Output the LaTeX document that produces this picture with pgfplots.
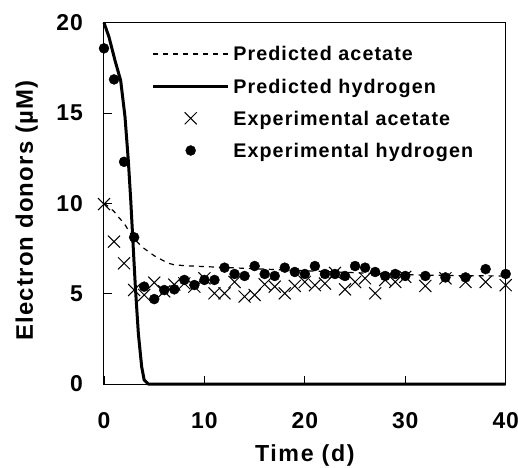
\documentclass[border=0pt]{standalone}
\usepackage{pgfplots}
\pgfplotsset{compat=1.18}
\usepackage{fontspec}
\setmainfont{Liberation Sans}
\newfontfamily\legfont{Liberation Sans Bold}[LetterSpace=5.5]
\newfontfamily\xlabfont{Liberation Sans Bold}[LetterSpace=7]
\newfontfamily\ylabfont{Liberation Sans Bold}[LetterSpace=5]
\newfontfamily\tickfont{Liberation Sans Bold}[LetterSpace=4]

% predicted (model) curves
\pgfplotstableread{
t   c
0   10
0.5 9.8
1   9.55
1.5 9.2
2   8.9
2.5 8.45
3   8.05
3.5 7.75
4   7.5
4.5 7.3
5   7.1
5.5 6.95
6   6.8
6.5 6.67
7   6.6
8   6.55
10  6.5
12  6.45
15  6.38
20  6.27
25  6.16
30  6.05
35  6.0
40  5.98
}\predacetate

\pgfplotstableread{
t    c
0    20
0.5  19.2
1.1  17.9
1.66 16.8
2.09 14.8
2.43 12.3
2.66 10.2
2.86 8.1
3.12 5.4
3.42 2.8
3.75 0.96
4.0  0.22
4.4  0
40   0
}\predhydrogen

% measured concentrations
\pgfplotstableread{
t  c
0  9.96
1  7.88
2  6.68
3  5.2
4  4.93
5  5.61
6  5.13
7  5.5
8  5.57
9  5.39
10 5.85
11 5.02
12 5.02
13 5.65
14 4.84
15 4.93
16 5.52
17 5.39
18 5.02
19 5.43
20 5.65
21 5.47
22 5.56
23 6.15
24 5.24
25 5.65
26 5.85
27 5.02
28 5.76
29 5.65
30 5.93
32 5.43
34 5.85
36 5.65
38 5.65
40 5.47
}\expacetate

\pgfplotstableread{
t  c
0  18.58
1  16.86
2  12.3
3  8.12
4  5.39
5  4.70
6  5.2
7  5.24
8  5.76
9  5.48
10 5.76
11 5.76
12 6.44
13 6.09
14 5.98
15 6.53
16 6.09
17 5.98
18 6.44
19 6.2
20 6.09
21 6.53
22 6.09
23 6.09
24 5.98
25 6.53
26 6.44
27 6.2
28 5.98
29 6.09
30 5.98
32 5.98
34 5.9
36 5.9
38 6.36
40 6.09
}\exphydrogen

\begin{document}
\begin{tikzpicture}
\path[use as bounding box] (-104bp,-84bp) rectangle (414bp,384bp);
\begin{axis}[
  scale only axis,
  width=401.7bp, height=361.3bp,
  xmin=0, xmax=40, ymin=0, ymax=20,
  xtick={0,10,...,40}, ytick={0,5,...,20},
  tick pos=left, tick align=inside,
  major tick length=8bp,
  tick style={black, line width=0.8bp},
  axis line style={black, line width=1bp},
  clip=false,
  /pgf/number format/assume math mode=true,
  ticklabel style={font=\tickfont\fontsize{23}{23}\selectfont},
  yticklabel style={inner sep=0pt, xshift=-21bp},
  xticklabel style={inner sep=0pt, yshift=-28bp},
  xlabel={Time (d)},
  ylabel={Electron donors (µM)},
  xlabel style={at={(axis description cs:0.5,-0.215)}, anchor=base, inner sep=0pt,
    font=\xlabfont\fontsize{23.3}{23.3}\selectfont},
  ylabel style={at={(axis description cs:-0.1768,0.48)}, anchor=base, rotate=0, inner sep=0pt,
    font=\ylabfont\fontsize{24}{24}\selectfont},
  legend cell align=left,
  legend image code/.code={\draw[mark repeat=2,mark phase=2,#1] plot coordinates {(0bp,0bp) (37.5bp,0bp) (75bp,0bp)};},
  legend style={at={(axis description cs:0.1187,0.933)}, anchor=north west,
    draw=none, fill=none, inner sep=0pt, outer sep=0pt,
    row sep=18.2bp, column sep=3.6bp,
    nodes={inner sep=0pt, text height=14bp, text depth=0pt,
      font=\legfont\fontsize{19.8}{19.8}\selectfont}},
]
\addplot[black, line width=1.2bp, dash pattern=on 5bp off 5bp] table[x=t,y=c] {\predacetate};
\addlegendentry{Predicted acetate}
\addplot[black, line width=3bp, line join=round] table[x=t,y=c] {\predhydrogen};
\addlegendentry{Predicted hydrogen}
\addplot[only marks, mark=x, mark size=8.5bp, mark options={black, line width=1bp}] table[x=t,y=c] {\expacetate};
\addlegendentry{Experimental acetate}
\addplot[only marks, mark=*, mark size=5bp, mark options={black, fill=black}] table[x=t,y=c] {\exphydrogen};
\addlegendentry{Experimental hydrogen}
\end{axis}
\end{tikzpicture}
\end{document}
